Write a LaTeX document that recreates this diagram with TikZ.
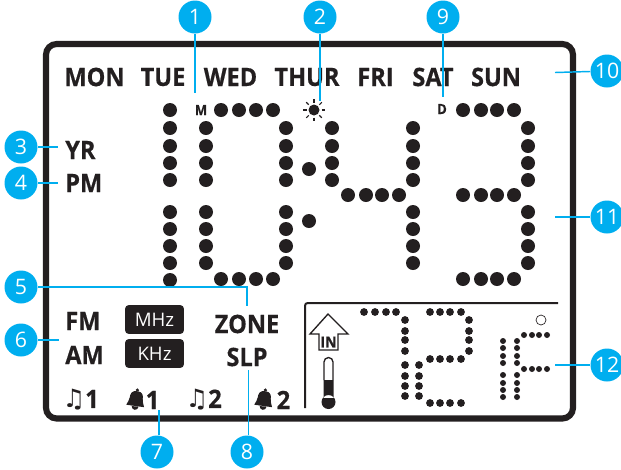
\documentclass[tikz,border=0pt]{standalone}
\usepackage{fontspec}
\setmainfont{Open Sans}[BoldFeatures={FakeBold=0.5,FakeStretch=0.93}]
\newfontfamily\symfont{DejaVu Sans}
\usepackage{tikz}
\usetikzlibrary{arrows.meta, positioning, calc}
\definecolor{ink}{HTML}{231F20}
\definecolor{callout}{HTML}{00AEEF}
\tikzset{
  badge/.style={circle, fill=callout, text=white, inner sep=0pt, minimum size=24.75pt, font=\fontsize{16}{16}\selectfont},
  lead/.style={draw=callout, line width=1.1pt},
  lcd/.style={text=ink, inner sep=0pt, font=\fontsize{19}{19}\selectfont\bfseries},
  unitbox/.style={fill=ink, text=white, rounded corners=2.5pt, inner sep=0pt, minimum width=44pt, minimum height=21.5pt, font=\fontsize{14}{14}\selectfont},
  alarm/.style={text=ink, inner sep=0pt, font=\fontsize{19}{19}\selectfont\bfseries},
}
\newcommand{\bell}[2]{%
  \fill[ink, shift={(#1,#2)}, rotate=-8] (0,-10) circle (1.8)
    (0,-9) .. controls (-6,-9) and (-6.5,-5) .. (-6.5,-2)
    .. controls (-6.5,1) and (-8,3) .. (-9,6) -- (9,6)
    .. controls (8,3) and (6.5,1) .. (6.5,-2)
    .. controls (6.5,-5) and (6,-9) .. (0,-9) -- cycle
    (-3.4,6.5) arc[start angle=180, end angle=0, radius=3.4] -- cycle;}
\begin{document}
\begin{tikzpicture}[x=0.75pt, y=-0.75pt]
  \useasboundingbox (0,0) rectangle (621,469);
  % Frame
  \draw[ink, line width=4.6pt, rounded corners=8] (46,44) rectangle (573,418.5);
  % Days
  \foreach \lbl/\cx in {MON/94.5, TUE/163, WED/230.5, THUR/307, FRI/375.5, SAT/433, SUN/496}
    \node[lcd] (d\lbl) at (\cx,77) {\lbl};
  % Main digits
  \foreach \py in {110,128,146,163,180,212,229,246,263,280}
    \fill[ink] (170,\py) circle (7);
  \foreach \px in {206,286,413,528}
    \foreach \py in {128,146,163,180,212,229,246,263}
      \fill[ink] (\px,\py) circle (7);
  \foreach \py in {128,146,163,180}
    \fill[ink] (332,\py) circle (7);
  \foreach \px in {221,239,256,273} {
    \fill[ink] (\px,110) circle (7);
    \fill[ink] (\px,279) circle (7);
  }
  \foreach \px in {348,366,382,399}
    \fill[ink] (\px,195) circle (7);
  \foreach \px in {463,481,497,514}
    \foreach \py in {110,195,279}
      \fill[ink] (\px,\py) circle (7);
  \fill[ink] (309,169) circle (7) (309,221) circle (7);
  \node[lcd, font=\fontsize{10.5}{10.5}\selectfont\bfseries] (mlabel) at (201,110) {M};
  \node[lcd, font=\fontsize{10.5}{10.5}\selectfont\bfseries] (dlabel) at (442,109) {D};
  % Sun
  \fill[ink] (314,110) circle (5.5);
  \foreach \ang in {0,45,...,315}
    \draw[ink, line width=0.8pt] ($(314,110)+(\ang:7.5)$) -- ($(314,110)+(\ang:11)$);
  % Left labels
  \node[lcd, anchor=west] (yr) at (65,150) {YR};
  \node[lcd, anchor=west] (pm) at (65,183) {PM};
  \node[lcd, anchor=west] (fm) at (65,321) {FM};
  \node[lcd, anchor=west] (am) at (65,355) {AM};
  \node[unitbox] (mhz) at (154.5,319.5) {MHz};
  \node[unitbox] (khz) at (154.5,353.5) {KHz};
  \node[lcd] (zone) at (247,324) {ZONE};
  \node[lcd] (slp) at (247,357) {SLP};
  % Alarms
  \node[alarm, anchor=east] (one) at (99,400) {\symfont♫\rmfamily 1};
  \bell{136}{400}
  \node[alarm] (onebis) at (152.5,400) {1};
  \node[alarm, anchor=east] (two) at (222,400) {\symfont♫\rmfamily 2};
  \bell{264}{400}
  \node[alarm] (twobis) at (283.5,400) {2};
  % Indoor panel
  \draw[ink, line width=1.5pt, rounded corners=2] (305,408) -- (305,303) -- (558,303);
  \draw[ink, line width=1pt, fill=white] (328,314) -- (310,334) -- (319,334) -- (319,350) -- (338,350) -- (338,334) -- (348,334) -- cycle;
  \node[lcd, font=\fontsize{11.5}{11.5}\selectfont\bfseries] (inlabel) at (328.5,342) {IN};
  \draw[ink, line width=1pt] (324,380) -- (324,362) arc[start angle=180, end angle=360, radius=4.5] -- (333,380);
  \fill[ink] (323.5,380) rectangle (333.5,398) (328.5,402) circle (7);
  % Indoor digits
  \foreach \px in {364,375,386,396,430,440,450,461}
    \fill[ink] (\px,312) circle (3.9);
  \foreach \px in {430,440,450,461} {
    \fill[ink] (\px,359) circle (3.9);
    \fill[ink] (\px,403) circle (3.9);
  }
  \foreach \px in {405,469}
    \foreach \py in {320,331,340,351}
      \fill[ink] (\px,\py) circle (3.9);
  \foreach \px in {405,419}
    \foreach \py in {365,376,386,396}
      \fill[ink] (\px,\py) circle (3.9);
  \foreach \px in {503,517}
    \foreach \py in {341,348,356,363,375,383,390,397}
      \fill[ink] (\px,\py) circle (3);
  \foreach \px in {524,532,539,547}
    \foreach \py in {335,369}
      \fill[ink] (\px,\py) circle (3);
  \draw[ink, line width=0.5pt] (541,320) circle (5);
  % Badges
  \foreach \num/\bx/\by in {1/195/17, 2/320/17, 3/21/147, 4/21/183, 5/21/287, 6/21/340,
                            7/157/452, 8/247/452, 9/443/17, 10/607/71, 11/607/217, 12/607/365}
    \node[badge] (n\num) at (\bx,\by) {\num};
  % Leader ends
  \coordinate (e1) at (195,93);
  \coordinate (e2) at (320,101);
  \coordinate (e3) at (58,147);
  \coordinate (e4) at (58,183);
  \coordinate (e5) at (247,306);
  \coordinate (e6) at (59,340);
  \coordinate (e7) at (159,410);
  \coordinate (e8) at (248.5,370);
  \coordinate (e9) at (443,97);
  \coordinate (e10) at (555,72.5);
  \coordinate (e11) at (555,217);
  \coordinate (e12) at (555,365);
  % Leaders
  \draw[lead] (n1) -- (e1);
  \draw[lead] (n2) -- (e2);
  \draw[lead] (n9) -- (e9);
  \draw[lead] (n3) -- (e3);
  \draw[lead] (n4) -- (e4);
  \draw[lead] (n6) -- (e6);
  \draw[lead] (n10) -- (e10);
  \draw[lead] (n11) -- (e11);
  \draw[lead] (n12) -- (e12);
  \draw[lead] (n5.east) -| (e5);
  \draw[lead] (e7) -- (e7 |- n7.north);
  \draw[lead] (e8) -- (e8 |- n8.north);
\end{tikzpicture}
\end{document}
